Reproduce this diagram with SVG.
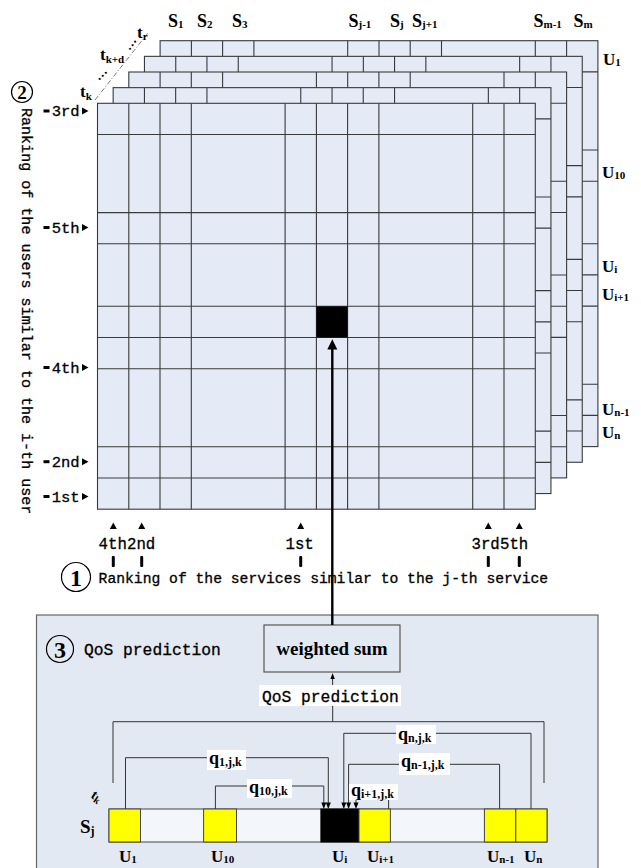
<svg xmlns="http://www.w3.org/2000/svg" width="641" height="868" viewBox="0 0 641 868">
<style>
.b{font-family:"Liberation Serif","Times New Roman",serif;font-weight:bold;fill:#000}
.m{font-family:"Liberation Mono","Courier New",monospace;fill:#000;stroke:#000;stroke-width:0.3}
.gl{fill:none;stroke:#3a3a3a;stroke-width:1.1}
.cell{fill:#e4eaf6;stroke:#3a3a3a;stroke-width:1.1}
.cn{fill:none;stroke:#333;stroke-width:1}
.ah{fill:#000}
.wb{fill:#fff}
.circ{fill:none;stroke:#000;stroke-width:1.2}
</style>
<defs>
<g id="layer">
<rect class="cell" x="97.5" y="103.3" width="437.8" height="405.9"/>
<path class="gl" d="M128.8 103.3V509.2M160 103.3V509.2M191.3 103.3V509.2M285.1 103.3V509.2M316.4 103.3V509.2M347.6 103.3V509.2M378.9 103.3V509.2M472.7 103.3V509.2M504 103.3V509.2M97.5 134.5H535.3M97.5 212.6H535.3M97.5 243.8H535.3M97.5 306.3H535.3M97.5 337.5H535.3M97.5 368.7H535.3M97.5 446.8H535.3M97.5 478H535.3"/>
</g>
</defs>
<rect width="641" height="868" fill="#fff"/>

<!-- stacked time layers -->
<g id="layers">
<use href="#layer" transform="translate(62.6,-62.6)"/>
<use href="#layer" transform="translate(46.95,-46.95)"/>
<use href="#layer" transform="translate(31.3,-31.3)"/>
<use href="#layer" transform="translate(15.65,-15.65)"/>
</g>
<g id="front-grid">
<use href="#layer"/>
<rect x="316.4" y="306.3" width="31.2" height="31.2" fill="#000"/>
</g>

<!-- time labels -->
<g id="time-axis">
<path d="M95 100L148 33" stroke="#777" stroke-width="1" stroke-dasharray="5 2 1 2" fill="none"/>
<text class="b" x="80" y="97" font-size="17">t<tspan font-size="11" dy="3">k</tspan></text>
<text class="b" x="100" y="60" font-size="17">t<tspan font-size="11" dy="3">k+d</tspan></text>
<text class="b" x="137" y="38" font-size="17">t<tspan font-size="11" dy="2">r</tspan></text>
<text class="b" font-size="13" text-anchor="middle" transform="translate(102,75) rotate(-45)" y="2">…</text>
<text class="b" font-size="13" text-anchor="middle" transform="translate(131.5,44.5) rotate(-55)" y="2">…</text>
</g>

<!-- service labels -->
<g id="service-labels">
<text class="b" x="168" y="26.5" font-size="18">S<tspan font-size="11" dy="1.5">1</tspan></text>
<text class="b" x="197" y="26.5" font-size="18">S<tspan font-size="11" dy="1.5">2</tspan></text>
<text class="b" x="232" y="26.5" font-size="18">S<tspan font-size="11" dy="1.5">3</tspan></text>
<text class="b" x="348.5" y="26.5" font-size="18">S<tspan font-size="11" dy="1.5">j-1</tspan></text>
<text class="b" x="390" y="26.5" font-size="18">S<tspan font-size="11" dy="1.5">j</tspan></text>
<text class="b" x="412" y="26.5" font-size="18">S<tspan font-size="11" dy="1.5">j+1</tspan></text>
<text class="b" x="533.5" y="26.5" font-size="18">S<tspan font-size="11" dy="1.5">m-1</tspan></text>
<text class="b" x="573.5" y="26.5" font-size="18">S<tspan font-size="11" dy="1.5">m</tspan></text>
</g>

<!-- user labels -->
<g id="user-labels">
<text class="b" x="603" y="65" font-size="17">U<tspan font-size="11" dy="1">1</tspan></text>
<text class="b" x="602" y="178" font-size="17">U<tspan font-size="11" dy="1">10</tspan></text>
<text class="b" x="602" y="271.5" font-size="17">U<tspan font-size="11" dy="1">i</tspan></text>
<text class="b" x="602" y="300" font-size="17">U<tspan font-size="11" dy="1">i+1</tspan></text>
<text class="b" x="602" y="415" font-size="17">U<tspan font-size="11" dy="1">n-1</tspan></text>
<text class="b" x="602" y="438" font-size="17">U<tspan font-size="11" dy="1">n</tspan></text>
</g>

<!-- step 2: user ranking -->
<g id="user-ranking">
<circle class="circ" cx="22" cy="92" r="10.5"/>
<text class="b" x="22" y="99" font-size="19" text-anchor="middle">2</text>
<text class="m" font-size="15.05" transform="translate(22,108) rotate(90)">Ranking of the users similar to the i-th user</text>
<g id="r3rd"><rect x="43.5" y="109.5" width="6" height="3"/><text class="m" x="51.7" y="116" font-size="15.5">3rd</text><polygon points="82,107.5 88.5,111 82,114.5"/></g>
<g id="r5th"><rect x="43.5" y="226" width="6" height="3"/><text class="m" x="51.7" y="232.5" font-size="15.5">5th</text><polygon points="82,224 88.5,227.5 82,231"/></g>
<g id="r4th"><rect x="43.5" y="366" width="6" height="3"/><text class="m" x="51.7" y="372.5" font-size="15.5">4th</text><polygon points="82,364 88.5,367.5 82,371"/></g>
<g id="r2nd"><rect x="43.5" y="460.2" width="6" height="3"/><text class="m" x="51.7" y="466.7" font-size="15.5">2nd</text><polygon points="82,458.2 88.5,461.7 82,465.2"/></g>
<g id="r1st"><rect x="43.5" y="495" width="6" height="3"/><text class="m" x="51.7" y="501.5" font-size="15.5">1st</text><polygon points="82,493 88.5,496.5 82,500"/></g>
</g>

<!-- step 1: service ranking -->
<g id="service-ranking">
<g id="s4th"><polygon points="109.8,529 116.8,529 113.3,522.5"/><text class="m" x="98.6" y="549" font-size="15.7">4th</text><rect x="111.8" y="556" width="3" height="11" rx="1"/></g>
<g id="s2nd"><polygon points="138.2,529 145.2,529 141.7,522.5"/><text class="m" x="127" y="549" font-size="15.7">2nd</text><rect x="140.2" y="556" width="3" height="11" rx="1"/></g>
<g id="s1st"><polygon points="297.2,529 304.2,529 300.7,522.5"/><text class="m" x="285.5" y="549" font-size="15.7">1st</text><rect x="299.2" y="556" width="3" height="11" rx="1"/></g>
<g id="s3rd"><polygon points="484.8,529 491.8,529 488.3,522.5"/><text class="m" x="471.5" y="549" font-size="15.7">3rd</text><rect x="486.8" y="556" width="3" height="11" rx="1"/></g>
<g id="s5th"><polygon points="515.8,529 522.8,529 519.3,522.5"/><text class="m" x="500" y="549" font-size="15.7">5th</text><rect x="517.8" y="556" width="3" height="11" rx="1"/></g>
<circle class="circ" cx="76" cy="577" r="14.5"/>
<text class="b" x="76" y="585.5" font-size="24" text-anchor="middle">1</text>
<text class="m" x="98.6" y="583" font-size="14.7">Ranking of the services similar to the j-th service</text>
</g>

<!-- step 3: QoS prediction box -->
<g id="qos-box">
<rect x="36.5" y="615" width="561.5" height="260" fill="#e3e9f3" stroke="#666" stroke-width="1.2"/>
<circle class="circ" cx="60" cy="649" r="13.5"/>
<text class="b" x="60" y="657.5" font-size="24" text-anchor="middle">3</text>
<text class="m" x="84" y="655" font-size="16.3">QoS prediction</text>
</g>

<g id="weighted-sum">
<rect x="264" y="625" width="136" height="47" fill="#e3e9f3" stroke="#555" stroke-width="1.2"/>
<text class="b" x="332" y="655" font-size="19" text-anchor="middle">weighted sum</text>
</g>

<!-- time slice strip -->
<g id="strip">
<rect x="109" y="809" width="438" height="33" fill="#f3f6fb" stroke="#444" stroke-width="1"/>
<rect x="109" y="809" width="31.5" height="33" fill="#ffff00" stroke="#444" stroke-width="1"/>
<rect x="203.6" y="809" width="32.9" height="33" fill="#ffff00" stroke="#444" stroke-width="1"/>
<rect x="320.9" y="809" width="38.1" height="33" fill="#000" stroke="#000" stroke-width="1"/>
<rect x="359" y="809" width="31.4" height="33" fill="#ffff00" stroke="#444" stroke-width="1"/>
<rect x="484.4" y="809" width="31.4" height="33" fill="#ffff00" stroke="#444" stroke-width="1"/>
<rect x="515.8" y="809" width="31.2" height="33" fill="#ffff00" stroke="#444" stroke-width="1"/>
<text class="b" font-size="14" transform="translate(90,797) rotate(35)">t<tspan font-size="10" dy="2">k</tspan></text>
<text class="b" x="80" y="833" font-size="19">S<tspan font-size="12" dy="2">j</tspan></text>
<text class="b" x="119" y="862" font-size="17">U<tspan font-size="11" dy="1">1</tspan></text>
<text class="b" x="211" y="862" font-size="17">U<tspan font-size="11" dy="1">10</tspan></text>
<text class="b" x="332" y="862" font-size="17">U<tspan font-size="11" dy="1">i</tspan></text>
<text class="b" x="367" y="862" font-size="17">U<tspan font-size="11" dy="1">i+1</tspan></text>
<text class="b" x="487" y="862" font-size="17">U<tspan font-size="11" dy="1">n-1</tspan></text>
<text class="b" x="524" y="862" font-size="17">U<tspan font-size="11" dy="1">n</tspan></text>
</g>

<!-- connectors -->
<g id="connectors">
<path d="M332.3 625V348" stroke="#000" stroke-width="2.4" fill="none"/>
<polygon class="ah" points="332.3,339.3 327.3,349.5 337.3,349.5"/>
<path class="cn" d="M332.6 685V677"/>
<polygon class="ah" points="332.6,673 330.4,679 334.8,679"/>
<path class="cn" d="M332.7 706V721.7M113 783V721.7H544V783" stroke="#555"/>
<path class="cn" d="M125.5 809V757.7H328.3V803"/>
<polygon class="ah" points="328.3,809 325.8,802.5 330.8,802.5"/>
<path class="cn" d="M215.4 809V786H323.8V803"/>
<polygon class="ah" points="323.8,809 321.3,802.5 326.3,802.5"/>
<path class="cn" d="M531 809V733.3H343.8V803"/>
<polygon class="ah" points="343.8,809 341.3,802.5 346.3,802.5"/>
<path class="cn" d="M499.6 809V764.3H348.6V803"/>
<polygon class="ah" points="348.6,809 346.1,802.5 351.1,802.5"/>
<path class="cn" d="M388.6 809V797H356V803"/>
<polygon class="ah" points="356,809 353.5,802.5 358.5,802.5"/>
</g>

<!-- connector labels -->
<g id="connector-labels">
<rect class="wb" x="259" y="685" width="142" height="21"/>
<text class="m" x="262" y="701.5" font-size="16.3">QoS prediction</text>
<rect class="wb" x="207" y="750" width="39" height="20"/>
<text class="b" x="209" y="764" font-size="18">q<tspan font-size="12" dy="2">1,j,k</tspan></text>
<rect class="wb" x="247" y="779" width="45" height="19"/>
<text class="b" x="249" y="793" font-size="18">q<tspan font-size="12" dy="2">10,j,k</tspan></text>
<rect class="wb" x="396" y="725" width="40" height="19"/>
<text class="b" x="398" y="739.5" font-size="18">q<tspan font-size="12" dy="2">n,j,k</tspan></text>
<rect class="wb" x="399" y="753" width="51" height="22"/>
<text class="b" x="401" y="767" font-size="18">q<tspan font-size="12" dy="2">n-1,j,k</tspan></text>
<rect class="wb" x="349" y="784" width="49" height="16"/>
<text class="b" x="351" y="796" font-size="18">q<tspan font-size="12" dy="2">i+1,j,k</tspan></text>
</g>
</svg>
